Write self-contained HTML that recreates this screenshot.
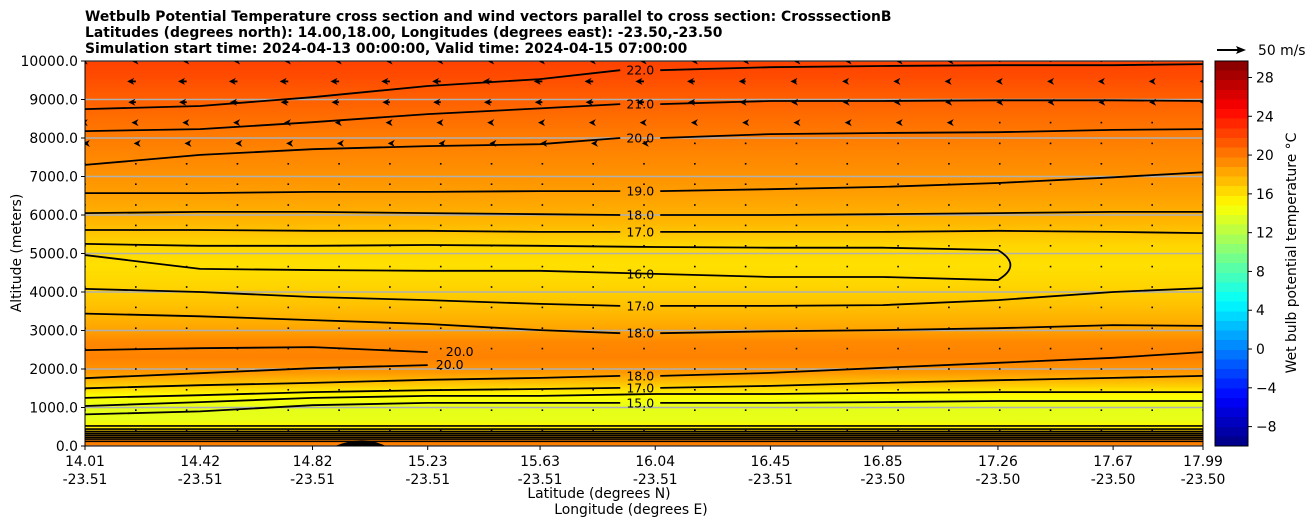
<!DOCTYPE html>
<html><head><meta charset="utf-8"><style>
body{margin:0;background:#fff;}
svg{display:block;font-family:"DejaVu Sans","Liberation Sans",sans-serif;}
</style></head><body>
<svg id="chart" width="1311" height="526" viewBox="0 0 1311 526" xmlns="http://www.w3.org/2000/svg">
<defs>
<linearGradient id="fieldGrad" x1="0" y1="1" x2="0" y2="0"></linearGradient>
<linearGradient id="cbGrad" x1="0" y1="1" x2="0" y2="0"></linearGradient>
<clipPath id="plotClip"><rect x="85" y="61" width="1118" height="385"/></clipPath>
</defs>
<g font-weight="bold" font-size="13.9" fill="#000">
<text x="85" y="21">Wetbulb Potential Temperature cross section and wind vectors parallel to cross section: CrosssectionB</text>
<text x="85" y="37">Latitudes (degrees north): 14.00,18.00, Longitudes (degrees east): -23.50,-23.50</text>
<text x="85" y="53">Simulation start time: 2024-04-13 00:00:00, Valid time: 2024-04-15 07:00:00</text>
</g>
<rect x="85" y="61" width="1118" height="385" fill="url(#fieldGrad)"/>
<g id="grid" clip-path="url(#plotClip)"></g>
<g id="contours" clip-path="url(#plotClip)"></g>
<g id="vectors" clip-path="url(#plotClip)"></g>
<g id="clabels" font-size="12.5" fill="#000"></g>
<rect x="85" y="61" width="1118" height="385" fill="none" stroke="#000" stroke-width="1"/>
<g id="yaxis" font-size="13.9"></g>
<g id="xaxis" font-size="13.9"></g>
<text x="21" y="253" font-size="13.9" text-anchor="middle" transform="rotate(-90 21 253)">Altitude (meters)</text>
<text x="599" y="498" font-size="13.9" text-anchor="middle">Latitude (degrees N)</text>
<text x="631" y="514" font-size="13.9" text-anchor="middle">Longitude (degrees E)</text>
<g>
<line x1="1217" y1="50" x2="1238" y2="50" stroke="#000" stroke-width="2"/>
<polygon points="1246,50 1236,46 1238,50 1236,54" fill="#000"/>
<text x="1258" y="55" font-size="13.9">50 m/s</text>
</g>
<rect x="1215" y="61" width="33" height="385" fill="url(#cbGrad)" stroke="#000" stroke-width="1"/>
<g id="cbticks" font-size="13.9"></g>
<text x="1296" y="253" font-size="13.9" text-anchor="middle" transform="rotate(-90 1296 253)">Wet bulb potential temperature °C</text>
</svg>
<script>
// ---- data ----
const latTicks = [14.01,14.42,14.82,15.23,15.63,16.04,16.45,16.85,17.26,17.67,17.99];
const lonTicks = ['-23.51','-23.51','-23.51','-23.51','-23.51','-23.51','-23.51','-23.50','-23.50','-23.50','-23.50'];
const altTicks = [0,1000,2000,3000,4000,5000,6000,7000,8000,9000,10000];
const cbTicks = [-8,-4,0,4,8,12,16,20,24,28];
// vertical temperature profile (altitude m, temperature C)
const profileAlt = [0,150,300,500,700,1000,1300,1600,1900,2300,2700,3100,3600,4200,4700,5200,5800,6500,7200,8000,9000,9600,10000];
const profileTemp = [20,19.5,17.5,15.2,13.9,13.8,14.8,17.0,18.8,19.7,19.4,18.2,17.3,16.4,16.0,16.4,17.6,18.5,19.2,19.9,21.0,21.8,22.2];
// contour lines: altitude (m) at each latTicks position
const contourLevels = ['22.0','21.0','20.0','19.0','18.0','17.0','17.0','18.0','18.0','17.0','16.0','15.0'];
const contourAlt = [
 [8750,8830,9060,9350,9530,9760,9840,9870,9890,9890,9920],
 [8180,8230,8410,8620,8770,8880,8960,8960,8980,8980,8960],
 [7300,7560,7710,7790,7840,8000,8100,8130,8150,8210,8230],
 [6570,6570,6600,6600,6620,6620,6670,6730,6830,6980,7110],
 [6050,6080,6080,6050,6020,6000,6000,6020,6050,6080,6080],
 [5610,5610,5590,5590,5560,5560,5560,5560,5590,5560,5530],
 [4080,4000,3870,3790,3690,3640,3640,3660,3790,4000,4100],
 [3440,3370,3270,3170,3010,2930,2980,3010,3060,3140,3120],
 [1500,1580,1640,1720,1770,1820,1900,2030,2160,2290,2440],
 [1250,1320,1400,1450,1480,1510,1560,1640,1710,1770,1820],
 [1040,1140,1250,1300,1300,1350,1350,1380,1400,1400,1400],
 [820,900,1060,1120,1120,1120,1120,1140,1170,1170,1170]
];
const contourLabelIdx = [5,5,5,5,5,5,5,5,5,5,-1,5];
// closed 16 region (mid-levels) top / bottom edges
const loop16Top = [5250,5200,5200,5220,5200,5170,5150,5150,5090];
const loop16Bot = [4960,4600,4570,4550,4550,4470,4390,4390,4310];
// 20 contours on left (partial)
const c20aAlt = [2490,2540,2570,2440];
const c20bAlt = [1760,1890,2020,2100];
// near-surface contour altitudes (flat bands)
const surfaceAlt = [520,440,380,330,280,230,180,120];
// wind vectors: u component (m/s) per row, multiplied by column factor
const rowAlt = [10000,9470,8930,8400,7860,7330,6800,6260,5730,5200,4660,4130,3600,3060,2530,2000,1460,930,400];
const rowU = [-8,-16,-14,-8,-4,-2,-1,-1,-1,-1,-1,-1,-1,-1,-1,-1,-1,-1,-1];
const colFactor = [1,1,1,1,1,1,1,1,1,1,1,1,0.9,0.8,0.7,0.6,0.55,0.5,0.45,0.4,0.4,0.4,0.4];

// ---- scales ----
const X0=85,X1=1203,Y0=446,Y1=61;
const xLat = v => X0 + (v-latTicks[0])/(latTicks[latTicks.length-1]-latTicks[0])*(X1-X0);
const yAlt = a => Y0 - a/10000*(Y0-Y1);
const T0=-10,T1=29.7;
function jet(t){
  const c=v=>Math.round(255*Math.max(0,Math.min(1,v)));
  return `rgb(${c(1.5-Math.abs(4*t-3))},${c(1.5-Math.abs(4*t-2))},${c(1.5-Math.abs(4*t-1))})`;
}
const tcol = T => jet((T-T0)/(T1-T0));
const NS='http://www.w3.org/2000/svg';
function mk(tag,attrs,parent){const e=document.createElementNS(NS,tag);for(const k in attrs)e.setAttribute(k,attrs[k]);parent.appendChild(e);return e;}

const fg=document.getElementById('fieldGrad');
profileAlt.forEach((a,i)=>{mk('stop',{offset:(a/10000),'stop-color':tcol(profileTemp[i])},fg);});
const cg=document.getElementById('cbGrad');
for(let i=0;i<40;i++){
  const t0=i/40,t1=(i+1)/40,col=jet((i+0.5)/40);
  mk('stop',{offset:t0,'stop-color':col},cg);mk('stop',{offset:t1,'stop-color':col},cg);
}
const grid=document.getElementById('grid');
altTicks.forEach(a=>{const l=mk('line',{x1:X0,x2:X1,y1:yAlt(a),y2:yAlt(a),stroke:'#b0b0b0','stroke-width':1.5},grid);

});
const cont=document.getElementById('contours'),cl=document.getElementById('clabels');
function pathFrom(xs,alts){return xs.map((x,i)=>(i?'L':'M')+x.toFixed(1)+' '+yAlt(alts[i]).toFixed(1)).join(' ');}
const xs=latTicks.map(xLat);
contourAlt.forEach((alts,ci)=>{
  const li=contourLabelIdx[ci];
  if(li>=0){
    const p1=mk('path',{d:pathFrom(xs.slice(0,li),alts.slice(0,li))+' L'+(xs[li]-35)+' '+yAlt(alts[li]).toFixed(1),fill:'none',stroke:'#000','stroke-width':1.8,'stroke-linejoin':'round'},cont);
    
    
    const p2=mk('path',{d:'M'+(xs[li]+5)+' '+yAlt(alts[li]).toFixed(1)+' '+pathFrom(xs.slice(li+1),alts.slice(li+1)).replace('M','L'),fill:'none',stroke:'#000','stroke-width':1.8,'stroke-linejoin':'round'},cont);
    
    
    const t=mk('text',{x:xs[li]-15,y:yAlt(alts[li])+4.5,'text-anchor':'middle'},cl);t.textContent=contourLevels[ci];
    
    
  } else {
    const p=mk('path',{d:pathFrom(xs,alts),fill:'none',stroke:'#000','stroke-width':1.8,'stroke-linejoin':'round'},cont);
    
    
  }
});
{
  const n=loop16Top.length, lx=xs.slice(0,n);
  let d=pathFrom(lx,loop16Top);
  d+=' Q '+(lx[n-1]+25)+' '+yAlt((loop16Top[n-1]+loop16Bot[n-1])/2)+' '+lx[n-1]+' '+yAlt(loop16Bot[n-1]);
  for(let i=n-2;i>=0;i--)d+=' L'+lx[i]+' '+yAlt(loop16Bot[i]);
  const p=mk('path',{d:d,fill:'none',stroke:'#000','stroke-width':1.8},cont);
  
  
  const t=mk('text',{x:xs[5]-15,y:yAlt(loop16Bot[5])+4.5,'text-anchor':'middle'},cl);t.textContent='16.0';
  
  
}
[c20aAlt,c20bAlt].forEach((alts,k)=>{
  const p=mk('path',{d:pathFrom(xs.slice(0,alts.length),alts),fill:'none',stroke:'#000','stroke-width':1.8},cont);
  
  
  const t=mk('text',{x:xs[alts.length-1]+22+(k?0:10),y:yAlt(alts[alts.length-1])+4,'text-anchor':'middle'},cl);t.textContent='20.0';
  
  
});
surfaceAlt.forEach(a=>{
  const p=mk('line',{x1:X0,x2:X1,y1:yAlt(a),y2:yAlt(a),stroke:'#000','stroke-width':1.6},cont);
  
  
});
{
  const h=mk('path',{d:`M${xLat(14.90)} ${Y0} Q ${xLat(15.0)} ${yAlt(300)} ${xLat(15.08)} ${Y0} Z`,fill:'#000'},cont);
  
  
}
const vg=document.getElementById('vectors');
const scale=27/50;
rowAlt.forEach((a,r)=>{
  colFactor.forEach((f,c)=>{
    const x=X0+c*(X1-X0)/(colFactor.length-1), y=yAlt(a), u=rowU[r]*f, L=u*scale;
    if(Math.abs(L)<2){const d=mk('rect',{x:x-0.8,y:y-0.8,width:1.6,height:1.6,fill:'#000'},vg);
      
      return;}
    const g=mk('g',{},vg);
    
    
    const tipx=x+L, dir=Math.sign(L);
    mk('line',{x1:x,y1:y,x2:tipx-dir*4,y2:y,stroke:'#000','stroke-width':1.8},g);
    mk('polygon',{points:`${tipx},${y} ${tipx-dir*7},${y-3.5} ${tipx-dir*5},${y} ${tipx-dir*7},${y+3.5}`,fill:'#000'},g);
  });
});
const ya=document.getElementById('yaxis');
altTicks.forEach(a=>{const y=yAlt(a);
  mk('line',{x1:81,x2:85,y1:y,y2:y,stroke:'#000'},ya);
  const t=mk('text',{x:78,y:y+5,'text-anchor':'end'},ya);t.textContent=a.toFixed(1);
  
  });
const xa=document.getElementById('xaxis');
latTicks.forEach((v,i)=>{const x=xLat(v);
  mk('line',{x1:x,x2:x,y1:446,y2:450,stroke:'#000'},xa);
  const t=mk('text',{x:x,y:466,'text-anchor':'middle'},xa);t.textContent=v.toFixed(2);
  
  
  const t2=mk('text',{x:x,y:484,'text-anchor':'middle'},xa);t2.textContent=lonTicks[i];
  
  });
const cb=document.getElementById('cbticks');
cbTicks.forEach(v=>{const y=446-(v-T0)/(T1-T0)*385;
  mk('line',{x1:1248,x2:1252,y1:y,y2:y,stroke:'#000'},cb);
  const t=mk('text',{x:1256,y:y+5},cb);t.textContent=v<0?'\u2212'+Math.abs(v):String(v);
  
  });
</script>
</body></html>
